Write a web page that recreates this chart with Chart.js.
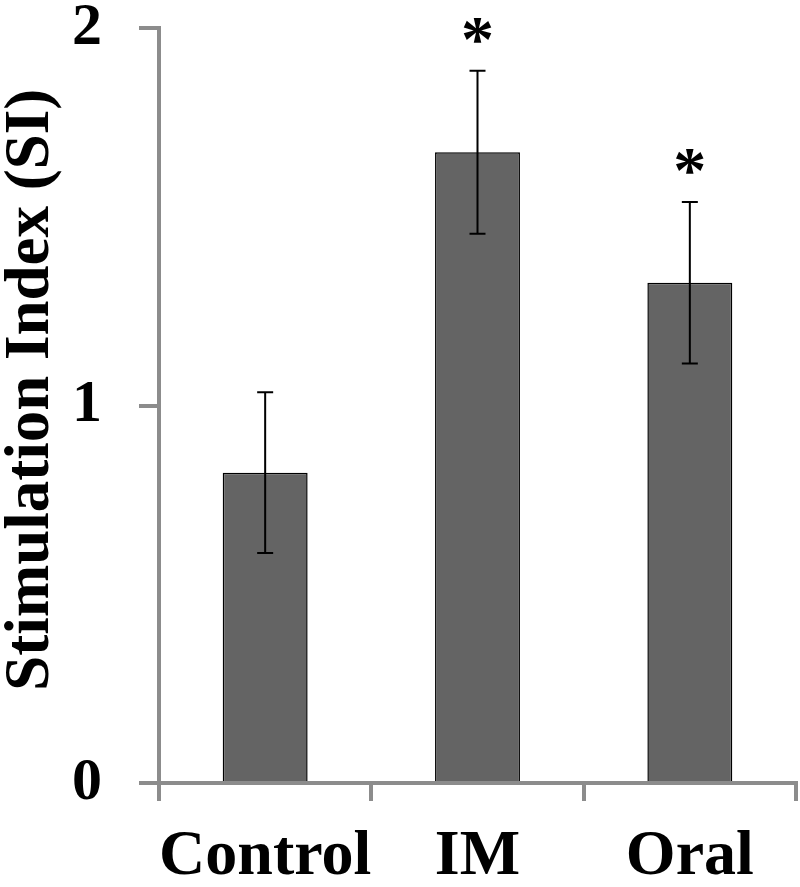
<!DOCTYPE html>
<html>
<head>
<meta charset="utf-8">
<script src="https://cdn.jsdelivr.net/npm/chart.js@4/dist/chart.umd.min.js"></script>
<style>
  html, body { margin: 0; padding: 0; background: #fff; }
  #wrap { width: 800px; height: 887px; position: relative; }
</style>
</head>
<body>
<div id="wrap"><canvas id="chart"></canvas></div>
<script>
const categories = ['Control', 'IM', 'Oral'];
const siMeans = [0.822, 1.671, 1.325];
const siErrors = [0.213, 0.216, 0.214];
const significance = ['', '*', '*'];
const yTicks = [0, 1, 2];

const axisGray = '#8c8c8c';
const serif = '"Liberation Serif", "Times New Roman", serif';

// error bars + asterisks, positioned through the scales
const errorBars = {
  id: 'errorBars',
  afterDatasetsDraw(chart) {
    const ctx = chart.ctx;
    const x = chart.scales.x;
    const y = chart.scales.y;
    ctx.save();
    ctx.strokeStyle = '#000';
    ctx.lineWidth = 2;
    siMeans.forEach((m, i) => {
      const px = x.getPixelForValue(i);
      const top = y.getPixelForValue(m + siErrors[i]);
      const bot = y.getPixelForValue(m - siErrors[i]);
      ctx.beginPath();
      ctx.moveTo(px, top);
      ctx.lineTo(px, bot);
      ctx.moveTo(px - 8, top);
      ctx.lineTo(px + 8, top);
      ctx.moveTo(px - 8, bot);
      ctx.lineTo(px + 8, bot);
      ctx.stroke();
      if (significance[i]) {
        ctx.fillStyle = '#000';
        ctx.font = 'bold 66px ' + serif;
        ctx.textAlign = 'center';
        ctx.textBaseline = 'alphabetic';
        ctx.fillText(significance[i], px, top - 10);
      }
    });
    ctx.restore();
  }
};

new Chart(document.getElementById('chart'), {
  type: 'bar',
  data: {
    labels: categories,
    datasets: [
      {
        label: 'Stimulation Index',
        data: siMeans,
        backgroundColor: '#646464',
        borderColor: '#000',
        borderWidth: 1.5,
        borderSkipped: 'bottom',
        categoryPercentage: 1,
        barPercentage: 0.4,
      },
    ],
  },
  options: {
    responsive: true,
    maintainAspectRatio: false,
    animation: false,
    devicePixelRatio: 1,
    layout: { padding: { left: 0, right: 4, top: 28, bottom: 0 } },
    plugins: {
      legend: { display: false },
      tooltip: { enabled: false },
    },
    scales: {
      x: {
        offset: true,
        grid: {
          offset: true,
          drawOnChartArea: false,
          drawTicks: true,
          tickLength: 18,
          color: axisGray,
          lineWidth: 4,
        },
        border: { display: true, color: axisGray, width: 4 },
        ticks: {
          color: '#000',
          padding: 24,
          autoSkip: false,
          maxRotation: 0,
          minRotation: 0,
          font: { family: serif, size: 64, weight: 'bold', lineHeight: 1 },
        },
        afterFit: scale => { scale.height = 104; },
      },
      y: {
        min: 0,
        max: 2,
        afterBuildTicks: scale => { scale.ticks = yTicks.map(v => ({ value: v })); },
        grid: {
          drawOnChartArea: false,
          drawTicks: true,
          tickLength: 20,
          color: axisGray,
          lineWidth: 4,
        },
        border: { display: true, color: axisGray, width: 4 },
        ticks: {
          color: '#000',
          padding: 37,
          font: { family: serif, size: 60, weight: 'bold', lineHeight: 1 },
        },
        title: {
          display: true,
          text: '  Stimulation Index (SI)',
          color: '#000',
          padding: 0,
          font: { family: serif, size: 63, weight: 'bold', lineHeight: 1 },
        },
        afterFit: scale => {
          scale.width = 159;
          scale.paddingTop = 0;
          scale.paddingBottom = 0;
        },
      },
    },
  },
  plugins: [errorBars],
});
</script>
</body>
</html>
